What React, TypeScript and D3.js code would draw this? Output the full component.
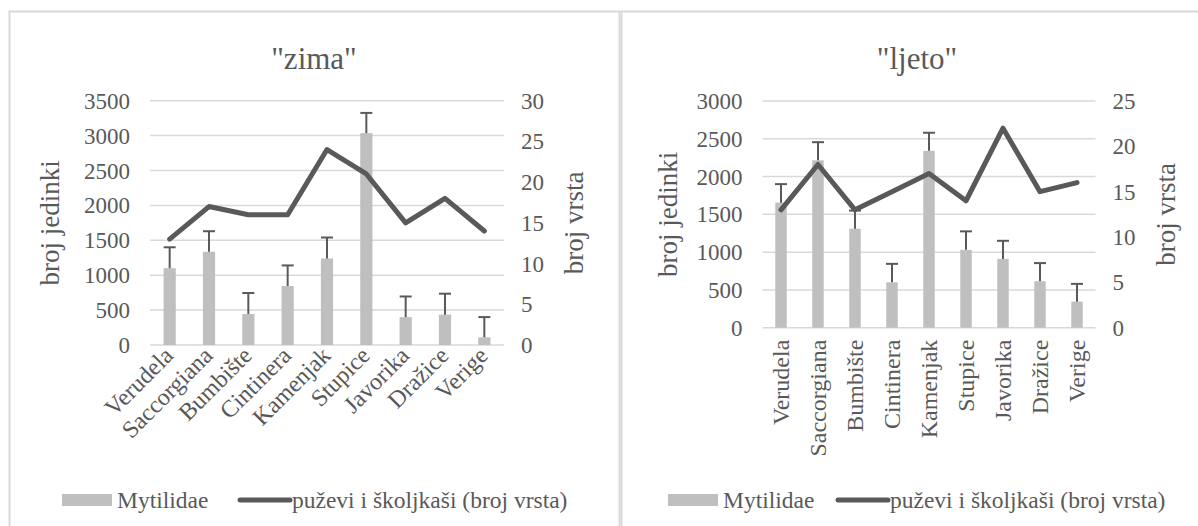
import React from "react";
import * as d3 from "d3";

const categories = ["Verudela", "Saccorgiana", "Bumbište", "Cintinera", "Kamenjak", "Stupice", "Javorika", "Dražice", "Verige"];

const zimaMytilidae = [1100, 1335, 445, 845, 1240, 3035, 400, 435, 110];
const zimaErrorTop = [1400, 1630, 745, 1140, 1540, 3325, 695, 735, 400];
const zimaSpecies = [13, 17, 16, 16, 24, 21, 15, 18, 14];
const zimaLeftTicks = [0, 500, 1000, 1500, 2000, 2500, 3000, 3500];
const zimaRightTicks = [0, 5, 10, 15, 20, 25, 30];

const ljetoMytilidae = [1655, 2215, 1310, 600, 2340, 1030, 910, 615, 345];
const ljetoErrorTop = [1900, 2455, 1550, 845, 2580, 1275, 1150, 855, 580];
const ljetoSpecies = [13, 18, 13, 15, 17, 14, 22, 15, 16];
const ljetoLeftTicks = [0, 500, 1000, 1500, 2000, 2500, 3000];
const ljetoRightTicks = [0, 5, 10, 15, 20, 25];

const seriesBarName = "Mytilidae";
const seriesLineName = "puževi i školjkaši (broj vrsta)";
const leftAxisTitle = "broj jedinki";
const rightAxisTitle = "broj vrsta";

const FONT = "'Liberation Serif', 'Times New Roman', serif";
const TEXT = "#595959";
const GRID = "#d9d9d9";
const BAR = "#bfbfbf";
const LINE = "#595959";

type PanelProps = {
  title: string;
  bars: number[];
  errTop: number[];
  line: number[];
  leftTicks: number[];
  rightTicks: number[];
  px: number;
  pw: number;
  plot: { x0: number; x1: number; y0: number; y1: number };
  rotate: number;
  leftTitleX: number;
  legend: { sw1: number; sw2: number };
};

function Panel(p: PanelProps) {
  const x = d3.scaleBand<string>().domain(categories).range([p.plot.x0, p.plot.x1]).paddingInner(0.69).paddingOuter(0.345);
  const yL = d3.scaleLinear().domain([0, d3.max(p.leftTicks)!]).range([p.plot.y1, p.plot.y0]);
  const yR = d3.scaleLinear().domain([0, d3.max(p.rightTicks)!]).range([p.plot.y1, p.plot.y0]);
  const cx = (c: string) => (x(c) as number) + x.bandwidth() / 2;
  const lineGen = d3.line<number>().x((_, i) => cx(categories[i])).y((v) => yR(v));
  const fs = 23;
  return (
    <g style={{ fontFamily: FONT }}>
      <text x={p.px + p.pw / 2} y={69} textAnchor="middle" fontSize={31} fill={TEXT}>{p.title}</text>
      {p.leftTicks.map((t) => (
        <g key={"g" + t}>
          <line x1={p.plot.x0} x2={p.plot.x1} y1={yL(t)} y2={yL(t)} stroke={GRID} strokeWidth={1.5} />
          <text x={p.plot.x0 - 20} y={yL(t)} dy="0.35em" textAnchor="end" fontSize={fs} fill={TEXT}>{t}</text>
        </g>
      ))}
      {p.rightTicks.map((t) => (
        <text key={"r" + t} x={p.plot.x1 + 17} y={yR(t)} dy="0.35em" textAnchor="start" fontSize={fs} fill={TEXT}>{t}</text>
      ))}
      {categories.map((c, i) => (
        <rect key={"b" + c} x={x(c)} y={yL(p.bars[i])} width={x.bandwidth()} height={yL(0) - yL(p.bars[i])} fill={BAR} />
      ))}
      {categories.map((c, i) => (
        <g key={"e" + c} stroke={LINE} strokeWidth={2}>
          <line x1={cx(c)} x2={cx(c)} y1={yL(p.bars[i])} y2={yL(p.errTop[i])} />
          <line x1={cx(c) - 6} x2={cx(c) + 6} y1={yL(p.errTop[i])} y2={yL(p.errTop[i])} />
        </g>
      ))}
      <path d={lineGen(p.line)!} fill="none" stroke={LINE} strokeWidth={5} strokeLinejoin="round" strokeLinecap="round" />
      {categories.map((c) => {
        const tx = p.rotate === -45 ? cx(c) + 5 : cx(c) + 8;
        const ty = p.plot.y1 + 12;
        return (
          <text key={"x" + c} x={tx} y={ty} textAnchor="end" fontSize={24} fill={TEXT}
            transform={`rotate(${p.rotate},${tx},${ty})`}>{c}</text>
        );
      })}
      <text transform={`translate(${p.leftTitleX},${(p.plot.y0 + p.plot.y1) / 2}) rotate(-90)`} textAnchor="middle" fontSize={27} fill={TEXT} dy="0.35em">{leftAxisTitle}</text>
      <text transform={`translate(${p.plot.x1 + 70},${(p.plot.y0 + p.plot.y1) / 2}) rotate(-90)`} textAnchor="middle" fontSize={27} fill={TEXT} dy="0.35em">{rightAxisTitle}</text>
      <rect x={p.legend.sw1} y={494} width={50} height={12} fill={BAR} />
      <text x={p.legend.sw1 + 55} y={500} dy="0.35em" fontSize={23.5} fill={TEXT}>{seriesBarName}</text>
      <line x1={p.legend.sw2} x2={p.legend.sw2 + 50} y1={500} y2={500} stroke={LINE} strokeWidth={5} strokeLinecap="round" />
      <text x={p.legend.sw2 + 52} y={500} dy="0.35em" fontSize={23.5} fill={TEXT}>{seriesLineName}</text>
    </g>
  );
}

export default function App() {
  return (
    <svg width={1198} height={526} style={{ position: "absolute", left: 0, top: 0, background: "#fff" }}>
      <rect x={0} y={0} width={1198} height={526} fill="#fff" />
      <rect x={9.5} y={11.5} width={610} height={530} fill="none" stroke={GRID} strokeWidth={2} />
      <rect x={621.5} y={11.5} width={600} height={530} fill="none" stroke={GRID} strokeWidth={2} />
      <Panel title={'"zima"'} bars={zimaMytilidae} errTop={zimaErrorTop} line={zimaSpecies}
        leftTicks={zimaLeftTicks} rightTicks={zimaRightTicks} px={9} pw={610} leftTitleX={50}
        plot={{ x0: 150, x1: 504, y0: 100.7, y1: 345 }} rotate={-45} legend={{ sw1: 62, sw2: 240 }} />
      <Panel title={'"ljeto"'} bars={ljetoMytilidae} errTop={ljetoErrorTop} line={ljetoSpecies}
        leftTicks={ljetoLeftTicks} rightTicks={ljetoRightTicks} px={621} pw={592} leftTitleX={668}
        plot={{ x0: 762.5, x1: 1095.5, y0: 101, y1: 327.7 }} rotate={-90} legend={{ sw1: 668, sw2: 838 }} />
    </svg>
  );
}
